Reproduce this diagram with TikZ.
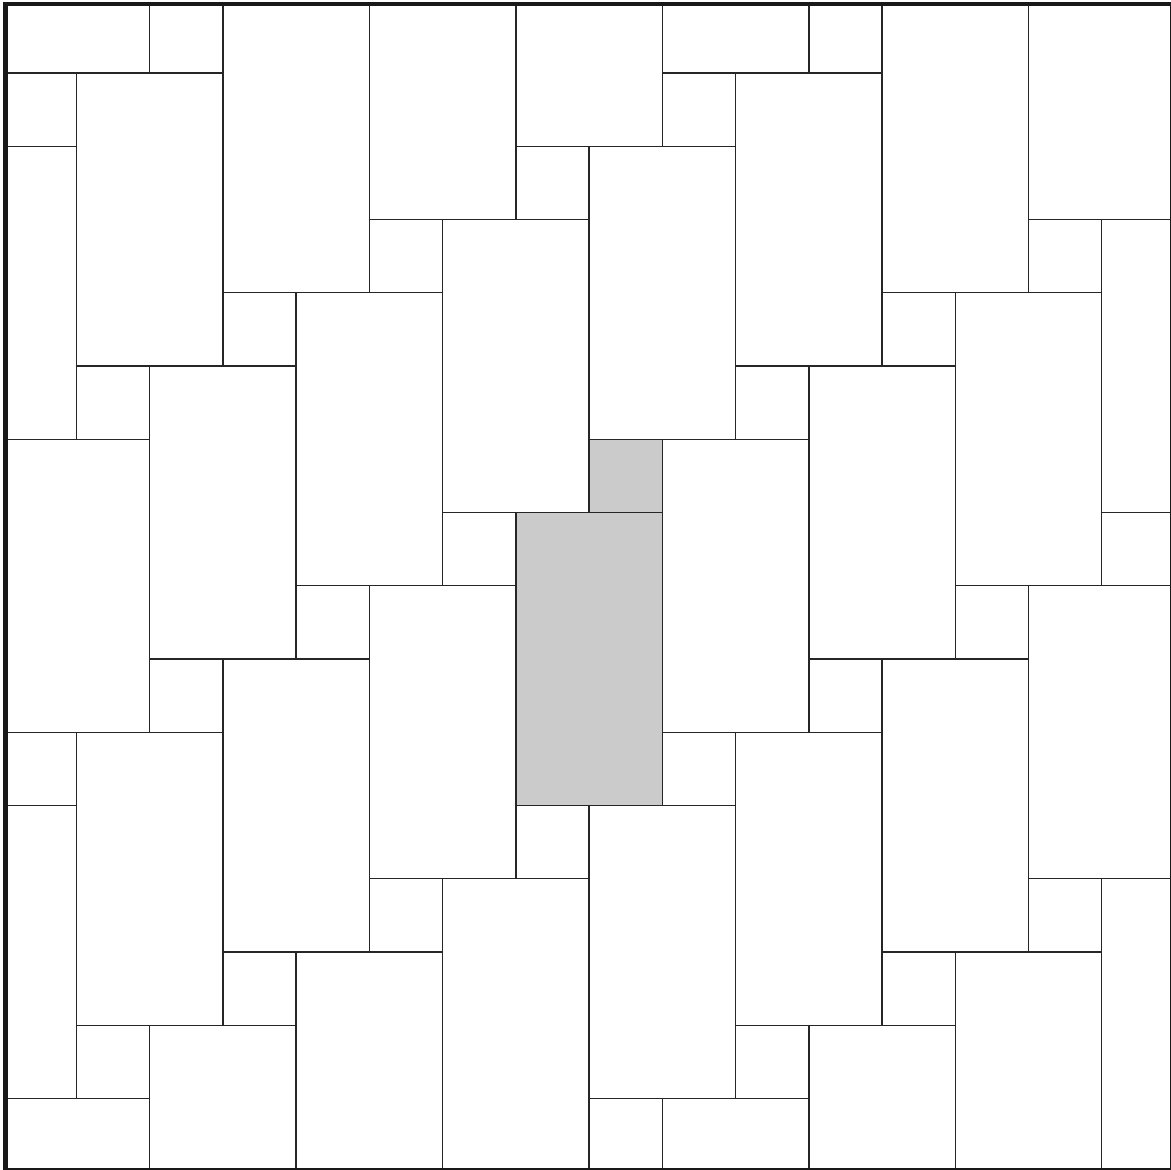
\documentclass[tikz,border=0pt]{standalone}
\definecolor{tilegray}{HTML}{CBCBCB}
\begin{document}
\begin{tikzpicture}[x=1cm,y=-1cm,tile/.style={draw=black!85,line width=0.55pt}]
 \useasboundingbox (-0.042,0.003) rectangle (15.945,15.975);
 \begin{scope}
  \clip (0.033,0.057) rectangle (15.958,15.982);
  % highlighted tile: one slab and its square
  \fill[tilegray] (7,7) rectangle (9,11) (8,6) rectangle (9,7);
  \foreach \a in {-8,...,8}{
   \foreach \b in {-4,...,4}{
    \pgfmathtruncatemacro\px{7+2*\a+\b}
    \pgfmathtruncatemacro\py{7-\a+4*\b}
    \draw[tile] (\px,\py) rectangle ++(2,4);
    \draw[tile] (\px+1,\py-1) rectangle ++(1,1);
   }}
 \end{scope}
 \draw[line width=1.9pt,black!90] (0.033,0.057) rectangle (15.958,15.982);
\end{tikzpicture}
\end{document}
